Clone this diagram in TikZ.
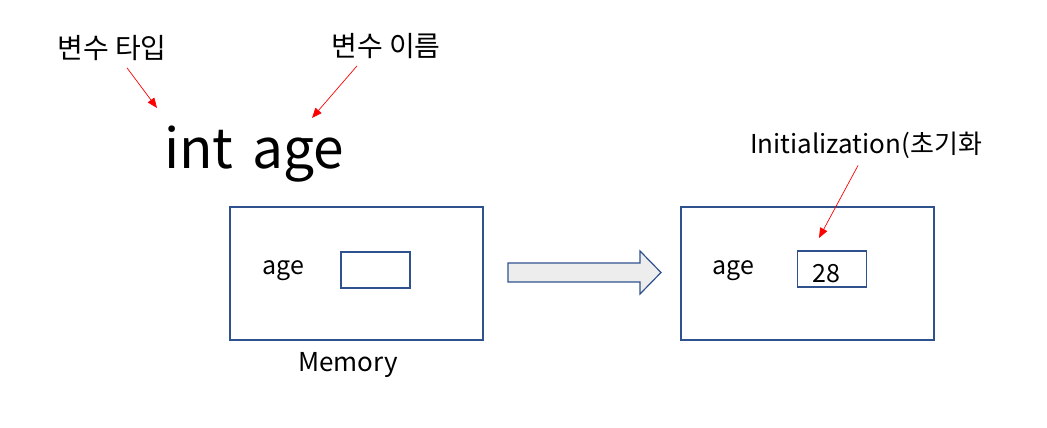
\documentclass[tikz,border=0pt]{standalone}
\usepackage{fontspec}
\setmainfont{Noto Sans CJK KR}
\usepackage{xcolor}
\usetikzlibrary{shapes,arrows.meta,positioning,calc}
\definecolor{memblue}{HTML}{2F528F}
\definecolor{arrowgray}{HTML}{EDEDED}

\begin{document}
\begin{tikzpicture}[x=1pt,y=-1pt,
  mem/.style={draw=memblue, line width=1.7pt, minimum width=253pt, minimum height=133pt},
  cell/.style={draw=memblue, line width=1.7pt, minimum width=69pt, minimum height=36pt, inner sep=0pt},
  note/.style={red, line width=0.7pt, -{Triangle[length=10pt,width=8pt]}},
  txt/.style={font=\fontsize{25}{30}\selectfont, inner sep=0pt}
]
\useasboundingbox (0,0) rectangle (1047,428);
\node[txt, font=\fontsize{28}{32}\selectfont] (t1) at (112,48) {변수 타입};
\node[txt, font=\fontsize{28}{32}\selectfont] (t2) at (386,46) {변수 이름};
\node[txt, font=\fontsize{55}{60}\selectfont, anchor=base] (decl) at (254,168) {int\hspace{6pt} age};
\coordinate (p1) at (157,108);
\coordinate (p2) at (312,118);
\draw[note] (t1.south) ++(15,7) -- (p1);
\draw[note] (t2.south) ++(-29,7) -- (p2);
\node[mem] (m1) at (356.5,273.5) {};
\node[cell] (c1) at (375.5,270) {};
\node[txt] (a1) at (283,271) {age};
\node[txt, font=\fontsize{26}{30}\selectfont] (lbl) at (348,365) {Memory};
\node[mem] (m2) at (807.5,273.5) {};
\node[cell] (c2) at (832,269) {};
\node[txt] (a2) at (733,271) {age};
\node[txt] (v) at (826,274) {28};
\draw[memblue, fill=arrowgray, line width=1.2pt] (508,263) -- (640,263) -- (640,251) -- (661,272.5)
  -- (640,294) -- (640,282) -- (508,282) -- cycle;
\node[txt, font=\fontsize{26}{30}\selectfont] (ini) at (866,145) {Initialization(초기화};
\coordinate (p3) at (819,238);
\draw[note] (ini.south) ++(-8,7) -- (p3);
\end{tikzpicture}
\end{document}
